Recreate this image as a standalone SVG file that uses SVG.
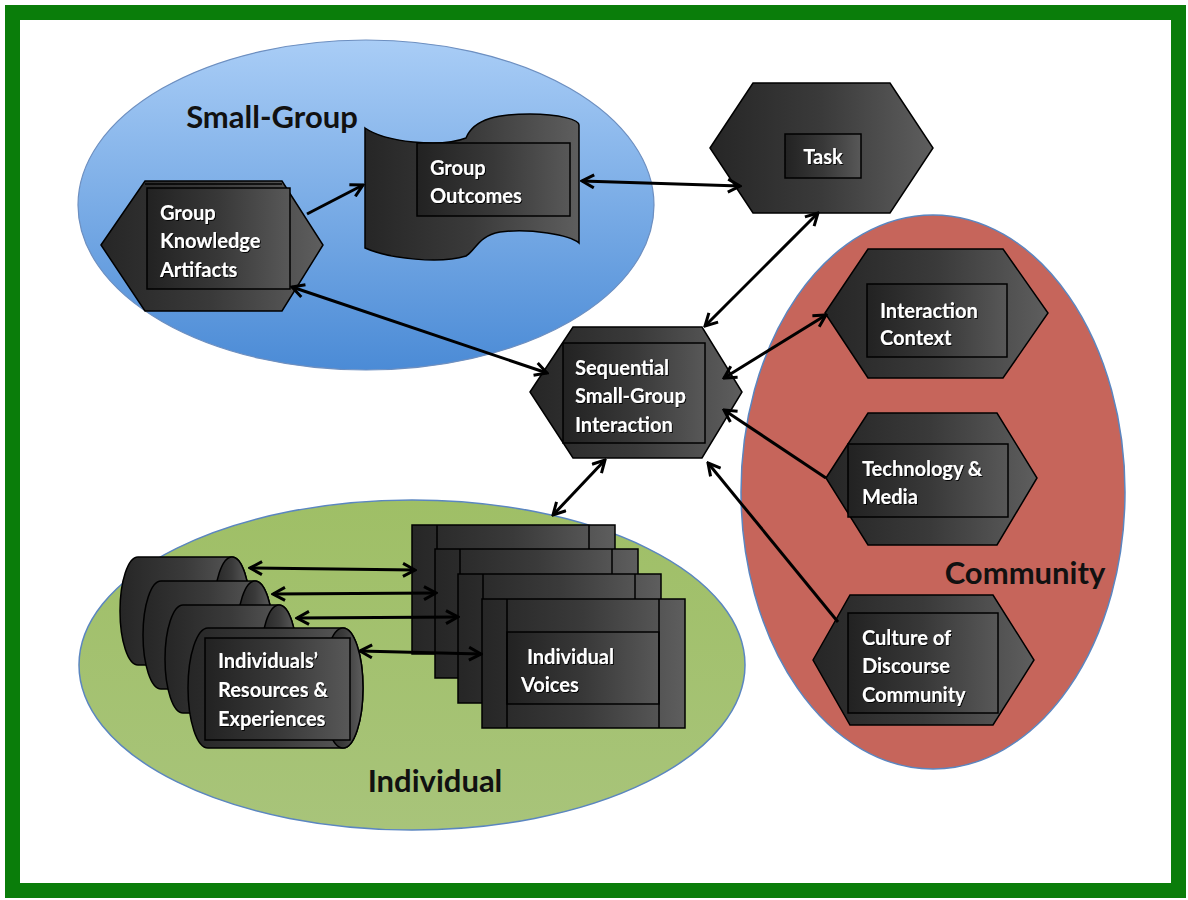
<svg xmlns="http://www.w3.org/2000/svg" width="1188" height="900" viewBox="0 0 1188 900">
<defs>
<style>
.node{fill:url(#dark);stroke:#000;stroke-width:1.5}
.inner{fill:url(#dark2);stroke:#000;stroke-width:1.5}
.ln{fill:none;stroke:#000;stroke-width:1.5}
.t{font-family:Lato,"Open Sans",sans-serif;font-weight:bold;font-size:20px;fill:#fff;filter:url(#sh)}
.lbl{font-family:Lato,"Open Sans",sans-serif;font-weight:bold;font-size:31px;fill:#111}
.c{fill:none;stroke:#000;stroke-width:3}
</style>
<linearGradient id="dark" x1="0" y1="0" x2="1" y2="0">
<stop offset="0" stop-color="#262626"/><stop offset="0.5" stop-color="#3a3a3a"/><stop offset="1" stop-color="#5e5e5e"/>
</linearGradient>
<linearGradient id="dark2" x1="0" y1="0" x2="1" y2="0">
<stop offset="0" stop-color="#222"/><stop offset="0.5" stop-color="#383838"/><stop offset="1" stop-color="#585858"/>
</linearGradient>
<linearGradient id="blue" x1="0" y1="0" x2="0" y2="1">
<stop offset="0" stop-color="#a9cdf6"/><stop offset="1" stop-color="#4b8bd6"/>
</linearGradient>
<linearGradient id="green" x1="0" y1="0" x2="0" y2="1">
<stop offset="0" stop-color="#9fbf66"/><stop offset="1" stop-color="#a8c47a"/>
</linearGradient>
<filter id="sh" x="-10%" y="-20%" width="130%" height="150%">
<feDropShadow dx="1" dy="1" stdDeviation="0.6" flood-color="#000" flood-opacity="0.9"/>
</filter>
<marker id="ah" viewBox="0 0 16 16" refX="14" refY="8" markerWidth="16" markerHeight="16" markerUnits="userSpaceOnUse" orient="auto-start-reverse">
<path d="M2,1.5 L14,8 L2,14.5" fill="none" stroke="#000" stroke-width="3" stroke-linejoin="miter"/>
</marker>
</defs>

<rect x="0" y="0" width="1188" height="900" fill="#fff"/>
<rect x="12.5" y="12.5" width="1166" height="878" fill="#fff" stroke="#0a7d0a" stroke-width="15"/>

<g id="regions">
<ellipse cx="366" cy="205" rx="288" ry="165" fill="url(#blue)" stroke="#6d8fc0" stroke-width="1.2"/>
<ellipse cx="412" cy="665" rx="333" ry="165" fill="url(#green)" stroke="#5b86c0" stroke-width="1.5"/>
<ellipse cx="933" cy="492" rx="192" ry="277" fill="#c6655b" stroke="#5b86c0" stroke-width="1.5"/>
<text class="lbl" x="272" y="128" text-anchor="middle">Small-Group</text>
<text class="lbl" x="435" y="792" text-anchor="middle">Individual</text>
<text class="lbl" x="1025" y="584" text-anchor="middle">Community</text>
</g>

<g id="group-knowledge-artifacts">
<polygon class="node" points="101,245 145,181 282,181 323,245 282,311 145,311"/>
<line class="ln" x1="145" y1="184" x2="282" y2="184"/>
<rect class="inner" x="147" y="188" width="143" height="101"/>
<text class="t" x="160" y="220">Group</text>
<text class="t" x="160" y="248">Knowledge</text>
<text class="t" x="160" y="277">Artifacts</text>
</g>

<g id="group-outcomes">
<path class="node" d="M365,128 C385,142 440,148 466,138 C474,118 500,114 530,114 C560,114 579,120 579,125 L579,243 C570,235 530,228 500,232 C478,236 476,250 466,256 C440,264 390,259 365,248 Z"/>
<rect class="inner" x="417" y="143" width="153" height="73"/>
<text class="t" x="430" y="175">Group</text>
<text class="t" x="430" y="203">Outcomes</text>
</g>

<g id="task">
<polygon class="node" points="710,148 753,83 890,83 933,148 890,213 753,213"/>
<rect class="inner" x="785" y="134" width="76" height="44"/>
<text class="t" x="823" y="164" text-anchor="middle">Task</text>
</g>

<g id="sequential-small-group-interaction">
<polygon class="node" points="530,392 573,327 702,327 742,392 702,458 573,458"/>
<rect class="inner" x="563" y="343" width="142" height="100"/>
<text class="t" x="575" y="375">Sequential</text>
<text class="t" x="575" y="403">Small-Group</text>
<text class="t" x="575" y="432">Interaction</text>
</g>

<g id="interaction-context">
<polygon class="node" points="825,313 868,249 1003,249 1048,313 1003,378 868,378"/>
<rect class="inner" x="867" y="284" width="140" height="73"/>
<text class="t" x="880" y="318">Interaction</text>
<text class="t" x="880" y="345">Context</text>
</g>

<g id="technology-media">
<polygon class="node" points="826,478 868,413 997,413 1037,478 997,545 868,545"/>
<rect class="inner" x="848" y="444" width="160" height="73"/>
<text class="t" x="862" y="476">Technology &amp;</text>
<text class="t" x="862" y="504">Media</text>
</g>

<g id="culture-of-discourse-community">
<polygon class="node" points="813,660 850,595 993,595 1034,660 993,725 850,725"/>
<rect class="inner" x="848" y="613" width="150" height="100"/>
<text class="t" x="862" y="645">Culture of</text>
<text class="t" x="862" y="673">Discourse</text>
<text class="t" x="862" y="702">Community</text>
</g>

<g id="individuals-resources-experiences">
<path class="node" d="M138,557 L232,557 A18,54 0 0 1 232,665 L138,665 A18,54 0 0 1 138,557 Z"/>
<ellipse class="node" cx="232" cy="611" rx="18" ry="54"/>
<path class="node" d="M161,581 L255,581 A18,54 0 0 1 255,689 L161,689 A18,54 0 0 1 161,581 Z"/>
<ellipse class="node" cx="255" cy="635" rx="18" ry="54"/>
<path class="node" d="M183,605 L279,605 A18,54 0 0 1 279,713 L183,713 A18,54 0 0 1 183,605 Z"/>
<ellipse class="node" cx="279" cy="659" rx="18" ry="54"/>
<path class="node" d="M208,628 L343,628 A20,60 0 0 1 343,748 L208,748 A20,60 0 0 1 208,628 Z"/>
<ellipse class="node" cx="343" cy="688" rx="20" ry="60"/>
<rect class="inner" x="205" y="638" width="145" height="102"/>
<text class="t" x="218" y="668">Individuals’</text>
<text class="t" x="218" y="697">Resources &amp;</text>
<text class="t" x="218" y="726">Experiences</text>
</g>

<g id="individual-voices">
<rect class="node" x="412" y="525" width="203" height="129"/>
<path class="ln" d="M437,525 V654 M589,525 V654 M437,558 H589"/>
<rect class="node" x="435" y="549" width="203" height="129"/>
<path class="ln" d="M460,549 V678 M612,549 V678 M460,582 H612"/>
<rect class="node" x="458" y="574" width="203" height="129"/>
<path class="ln" d="M483,574 V703 M635,574 V703 M483,607 H635"/>
<rect class="node" x="482" y="599" width="203" height="129"/>
<rect class="inner" x="507" y="632" width="152" height="72"/>
<path class="ln" d="M507,599 V728 M659,599 V728"/>
<text class="t" x="527" y="664">Individual</text>
<text class="t" x="521" y="692">Voices</text>
</g>

<g id="connectors">
<line class="c" x1="307" y1="214" x2="363" y2="185" marker-end="url(#ah)"/>
<line class="c" x1="582" y1="181" x2="740" y2="186" marker-start="url(#ah)" marker-end="url(#ah)"/>
<line class="c" x1="292" y1="287" x2="547" y2="373" marker-start="url(#ah)" marker-end="url(#ah)"/>
<line class="c" x1="818" y1="213" x2="705" y2="326" marker-start="url(#ah)" marker-end="url(#ah)"/>
<line class="c" x1="826" y1="315" x2="724" y2="378" marker-start="url(#ah)" marker-end="url(#ah)"/>
<line class="c" x1="826" y1="478" x2="724" y2="410" marker-end="url(#ah)"/>
<line class="c" x1="838" y1="622" x2="708" y2="463" marker-end="url(#ah)"/>
<line class="c" x1="605" y1="460" x2="553" y2="515" marker-start="url(#ah)" marker-end="url(#ah)"/>
<line class="c" x1="250" y1="568" x2="415" y2="570" marker-start="url(#ah)" marker-end="url(#ah)"/>
<line class="c" x1="273" y1="594" x2="436" y2="593" marker-start="url(#ah)" marker-end="url(#ah)"/>
<line class="c" x1="297" y1="618" x2="458" y2="617" marker-start="url(#ah)" marker-end="url(#ah)"/>
<line class="c" x1="360" y1="651" x2="481" y2="654" marker-start="url(#ah)" marker-end="url(#ah)"/>
</g>
</svg>
